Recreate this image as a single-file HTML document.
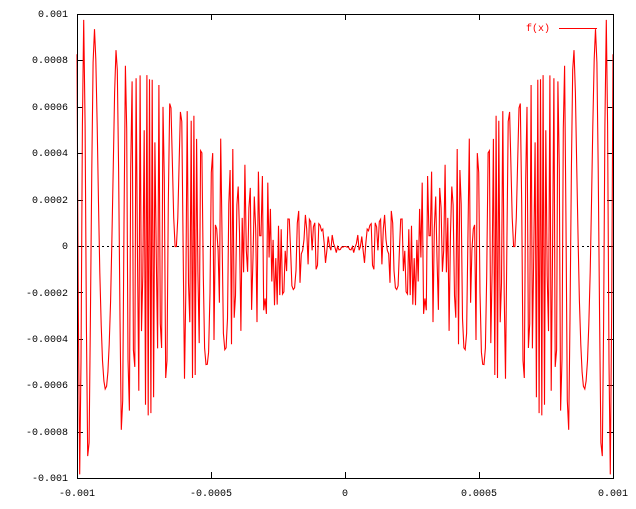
<!DOCTYPE html>
<html><head><meta charset="utf-8">
<style>
html,body{margin:0;padding:0;background:#fff;}
svg{display:block;}
text{font-family:"Liberation Mono",monospace;font-size:10px;fill:#000;}
</style></head>
<body>
<svg id="s" width="636" height="509" xmlns="http://www.w3.org/2000/svg">
<rect width="636" height="509" fill="#fff"/>
<g id="ticks" stroke="#000" stroke-width="1"></g>
<line x1="77" y1="246.5" x2="613" y2="246.5" stroke="#000" stroke-dasharray="2,3"/>
<path id="p" fill="none" stroke="#f00" stroke-width="1.1"/>
<rect x="77.5" y="14.5" width="536" height="464" fill="none" stroke="#000"/>
<g text-anchor="end">
<text x="68" y="17">0.001</text>
<text x="68" y="63">0.0008</text>
<text x="68" y="110">0.0006</text>
<text x="68" y="156">0.0004</text>
<text x="68" y="203">0.0002</text>
<text x="68" y="249">0</text>
<text x="68" y="296">-0.0002</text>
<text x="68" y="342">-0.0004</text>
<text x="68" y="388">-0.0006</text>
<text x="68" y="435">-0.0008</text>
<text x="68" y="481">-0.001</text>
</g>
<g text-anchor="middle">
<text x="77" y="496">-0.001</text>
<text x="211" y="496">-0.0005</text>
<text x="345" y="496">0</text>
<text x="479" y="496">0.0005</text>
<text x="613" y="496">0.001</text>
</g>
<text x="550" y="31" text-anchor="end" style="fill:#f00">f(x)</text>
<line x1="559" y1="28.5" x2="597" y2="28.5" stroke="#f00"/>
</svg>
<script>
var L=77,R=613,T=14,B=478;
function X(x){return L+(x+0.001)/0.002*(R-L);}
function Y(y){return 246+(-y)/0.001*232;}
var d="",N=399;
for(var i=0;i<=N;i++){var x=-0.001+0.002*i/N;var y=Math.abs(x)<1e-12?0:x*Math.sin(1/x);
d+=(i?"L":"M")+X(x).toFixed(1)+" "+Y(y).toFixed(1);}
document.getElementById("p").setAttribute("d",d);
var g=document.getElementById("ticks"),s="";
for(var k=0;k<=10;k++){var yy=Math.round(14+k*46.4)+0.5;
s+='<line x1="77" y1="'+yy+'" x2="83" y2="'+yy+'"/><line x1="607" y1="'+yy+'" x2="613" y2="'+yy+'"/>';}
for(var k=0;k<=4;k++){var xx=Math.round(77+k*134)+0.5;
s+='<line x1="'+xx+'" y1="478" x2="'+xx+'" y2="472"/><line x1="'+xx+'" y1="14" x2="'+xx+'" y2="20"/>';}
g.innerHTML=s;
</script>
</body></html>
